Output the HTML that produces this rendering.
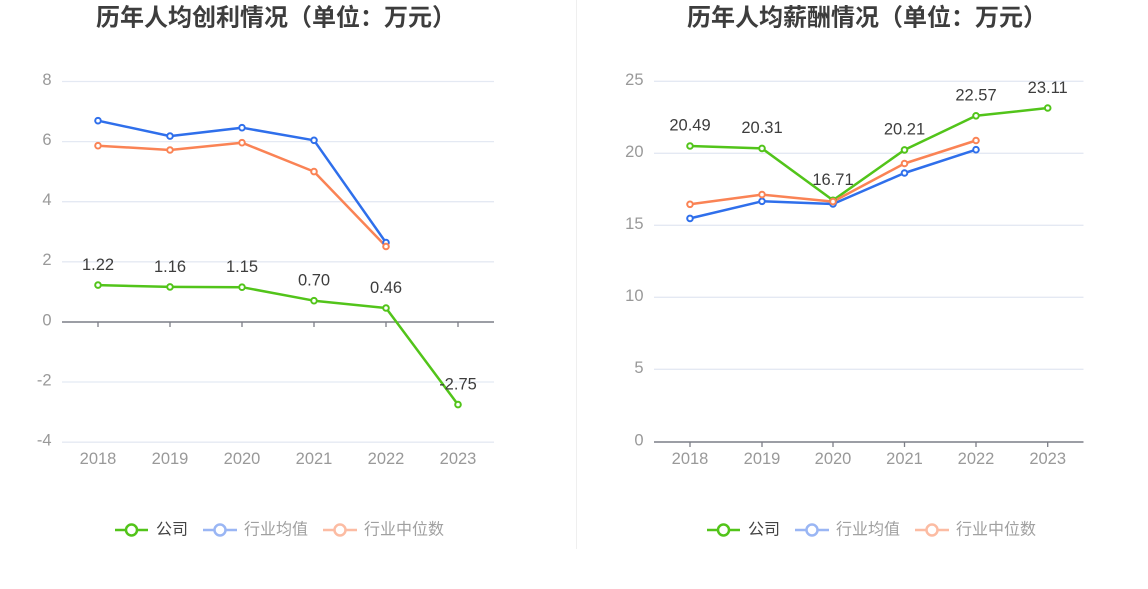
<!DOCTYPE html>
<html>
<head>
<meta charset="utf-8">
<style>
  html,body{margin:0;padding:0;background:#fff;}
  svg{display:block;}
  .title{font-family:"Liberation Sans","Noto Sans CJK SC",sans-serif;font-weight:bold;font-size:24px;fill:#3d3d3d;}
  .ax{font-family:"Liberation Sans",sans-serif;font-size:16.5px;fill:#999;}
  .lbl{font-family:"Liberation Sans",sans-serif;font-size:16.5px;fill:#3d3d3d;}
  .leg{font-family:"Liberation Sans","Noto Sans CJK SC",sans-serif;font-size:16px;}
</style>
</head>
<body>
<svg width="1148" height="589" viewBox="0 0 1148 589" xmlns="http://www.w3.org/2000/svg">
  <rect width="1148" height="589" fill="#fff"/>
  <line x1="576.5" y1="0" x2="576.5" y2="549" stroke="#efefef" stroke-width="1"/>

  <!-- ================= LEFT CHART ================= -->
  <text class="title" x="276" y="18" text-anchor="middle" dominant-baseline="central">历年人均创利情况（单位：万元）</text>

  <g stroke="#e4e9f3" stroke-width="1.3">
    <line x1="62" y1="81.5" x2="494" y2="81.5"/>
    <line x1="62" y1="141.6" x2="494" y2="141.6"/>
    <line x1="62" y1="201.7" x2="494" y2="201.7"/>
    <line x1="62" y1="261.8" x2="494" y2="261.8"/>
    <line x1="62" y1="382" x2="494" y2="382"/>
    <line x1="62" y1="442.2" x2="494" y2="442.2"/>
  </g>
  <line x1="62" y1="322" x2="494" y2="322" stroke="#7c7e87" stroke-width="1.6"/>
  <g stroke="#7c7e87" stroke-width="1.3">
    <line x1="98" y1="322" x2="98" y2="327"/>
    <line x1="170" y1="322" x2="170" y2="327"/>
    <line x1="242" y1="322" x2="242" y2="327"/>
    <line x1="314" y1="322" x2="314" y2="327"/>
    <line x1="386" y1="322" x2="386" y2="327"/>
    <line x1="458" y1="322" x2="458" y2="327"/>
  </g>
  <g class="ax" text-anchor="end" dominant-baseline="central">
    <text x="51.5" y="80">8</text>
    <text x="51.5" y="140">6</text>
    <text x="51.5" y="200">4</text>
    <text x="51.5" y="260">2</text>
    <text x="51.5" y="320.5">0</text>
    <text x="51.5" y="380.5">-2</text>
    <text x="51.5" y="440.5">-4</text>
  </g>
  <g class="ax" text-anchor="middle" dominant-baseline="central">
    <text x="98" y="459">2018</text>
    <text x="170" y="459">2019</text>
    <text x="242" y="459">2020</text>
    <text x="314" y="459">2021</text>
    <text x="386" y="459">2022</text>
    <text x="458" y="459">2023</text>
  </g>
  <g fill="none" stroke-width="2.5" stroke-linejoin="round">
    <polyline stroke="#52c41a" points="98,285.1 170,286.9 242,287.2 314,300.7 386,308 458,404.6"/>
    <polyline stroke="#2f6feb" points="98,120.7 170,136.1 242,127.7 314,140.3 386,242.6"/>
    <polyline stroke="#fa8355" points="98,145.7 170,150 242,142.7 314,171.6 386,246.5"/>
  </g>
  <g fill="#fff" stroke-width="2">
    <g stroke="#52c41a">
      <circle cx="98" cy="285.1" r="2.8"/><circle cx="170" cy="286.9" r="2.8"/><circle cx="242" cy="287.2" r="2.8"/>
      <circle cx="314" cy="300.7" r="2.8"/><circle cx="386" cy="308" r="2.8"/><circle cx="458" cy="404.6" r="2.8"/>
    </g>
    <g stroke="#2f6feb">
      <circle cx="98" cy="120.7" r="2.8"/><circle cx="170" cy="136.1" r="2.8"/><circle cx="242" cy="127.7" r="2.8"/>
      <circle cx="314" cy="140.3" r="2.8"/><circle cx="386" cy="242.6" r="2.8"/>
    </g>
    <g stroke="#fa8355">
      <circle cx="98" cy="145.7" r="2.8"/><circle cx="170" cy="150" r="2.8"/><circle cx="242" cy="142.7" r="2.8"/>
      <circle cx="314" cy="171.6" r="2.8"/><circle cx="386" cy="246.5" r="2.8"/>
    </g>
  </g>
  <g class="lbl" text-anchor="middle" dominant-baseline="central">
    <text x="98" y="265">1.22</text>
    <text x="170" y="267">1.16</text>
    <text x="242" y="267">1.15</text>
    <text x="314" y="280.5">0.70</text>
    <text x="386" y="288">0.46</text>
    <text x="458" y="384.5">-2.75</text>
  </g>
  <g>
    <line x1="115" y1="530" x2="148" y2="530" stroke="#52c41a" stroke-width="2.5"/>
    <circle cx="131.5" cy="530" r="5.5" fill="#fff" stroke="#52c41a" stroke-width="2.5"/>
    <text class="leg" x="156" y="530" dominant-baseline="central" fill="#444">公司</text>
    <line x1="203" y1="530" x2="237" y2="530" stroke="#9ab6f4" stroke-width="2.5"/>
    <circle cx="220" cy="530" r="5.5" fill="#fff" stroke="#9ab6f4" stroke-width="2.5"/>
    <text class="leg" x="244" y="530" dominant-baseline="central" fill="#a0a0a0">行业均值</text>
    <line x1="323" y1="530" x2="357" y2="530" stroke="#fcbca3" stroke-width="2.5"/>
    <circle cx="340" cy="530" r="5.5" fill="#fff" stroke="#fcbca3" stroke-width="2.5"/>
    <text class="leg" x="364" y="530" dominant-baseline="central" fill="#a0a0a0">行业中位数</text>
  </g>

  <!-- ================= RIGHT CHART ================= -->
  <text class="title" x="867" y="18" text-anchor="middle" dominant-baseline="central">历年人均薪酬情况（单位：万元）</text>

  <g stroke="#e4e9f3" stroke-width="1.3">
    <line x1="654" y1="81.3" x2="1083.5" y2="81.3"/>
    <line x1="654" y1="153.3" x2="1083.5" y2="153.3"/>
    <line x1="654" y1="225.3" x2="1083.5" y2="225.3"/>
    <line x1="654" y1="297.3" x2="1083.5" y2="297.3"/>
    <line x1="654" y1="369.3" x2="1083.5" y2="369.3"/>
  </g>
  <line x1="654" y1="442" x2="1083.5" y2="442" stroke="#7c7e87" stroke-width="1.6"/>
  <g stroke="#7c7e87" stroke-width="1.3">
    <line x1="690" y1="442" x2="690" y2="447"/>
    <line x1="762" y1="442" x2="762" y2="447"/>
    <line x1="833" y1="442" x2="833" y2="447"/>
    <line x1="904.5" y1="442" x2="904.5" y2="447"/>
    <line x1="976" y1="442" x2="976" y2="447"/>
    <line x1="1047.7" y1="442" x2="1047.7" y2="447"/>
  </g>
  <g class="ax" text-anchor="end" dominant-baseline="central">
    <text x="643.5" y="80">25</text>
    <text x="643.5" y="152">20</text>
    <text x="643.5" y="224">15</text>
    <text x="643.5" y="296">10</text>
    <text x="643.5" y="368">5</text>
    <text x="643.5" y="440.5">0</text>
  </g>
  <g class="ax" text-anchor="middle" dominant-baseline="central">
    <text x="690" y="459">2018</text>
    <text x="762" y="459">2019</text>
    <text x="833" y="459">2020</text>
    <text x="904.5" y="459">2021</text>
    <text x="976" y="459">2022</text>
    <text x="1047.7" y="459">2023</text>
  </g>
  <g fill="none" stroke-width="2.5" stroke-linejoin="round">
    <polyline stroke="#52c41a" points="690,146 762,148.4 833,200.3 904.5,149.9 976,115.8 1047.7,108"/>
    <polyline stroke="#2f6feb" points="690,218.4 762,201.3 833,204 904.5,173 976,149.7"/>
    <polyline stroke="#fa8355" points="690,204.3 762,194.6 833,201.6 904.5,163.5 976,140.5"/>
  </g>
  <g fill="#fff" stroke-width="2">
    <g stroke="#52c41a">
      <circle cx="690" cy="146" r="2.8"/><circle cx="762" cy="148.4" r="2.8"/><circle cx="833" cy="200.3" r="2.8"/>
      <circle cx="904.5" cy="149.9" r="2.8"/><circle cx="976" cy="115.8" r="2.8"/><circle cx="1047.7" cy="108" r="2.8"/>
    </g>
    <g stroke="#2f6feb">
      <circle cx="690" cy="218.4" r="2.8"/><circle cx="762" cy="201.3" r="2.8"/><circle cx="833" cy="204" r="2.8"/>
      <circle cx="904.5" cy="173" r="2.8"/><circle cx="976" cy="149.7" r="2.8"/>
    </g>
    <g stroke="#fa8355">
      <circle cx="690" cy="204.3" r="2.8"/><circle cx="762" cy="194.6" r="2.8"/><circle cx="833" cy="201.6" r="2.8"/>
      <circle cx="904.5" cy="163.5" r="2.8"/><circle cx="976" cy="140.5" r="2.8"/>
    </g>
  </g>
  <g class="lbl" text-anchor="middle" dominant-baseline="central">
    <text x="690" y="125.5">20.49</text>
    <text x="762" y="128">20.31</text>
    <text x="833" y="180">16.71</text>
    <text x="904.5" y="129.5">20.21</text>
    <text x="976" y="95.5">22.57</text>
    <text x="1047.7" y="88">23.11</text>
  </g>
  <g>
    <line x1="707" y1="530" x2="740" y2="530" stroke="#52c41a" stroke-width="2.5"/>
    <circle cx="723.5" cy="530" r="5.5" fill="#fff" stroke="#52c41a" stroke-width="2.5"/>
    <text class="leg" x="748" y="530" dominant-baseline="central" fill="#444">公司</text>
    <line x1="795" y1="530" x2="829" y2="530" stroke="#9ab6f4" stroke-width="2.5"/>
    <circle cx="812" cy="530" r="5.5" fill="#fff" stroke="#9ab6f4" stroke-width="2.5"/>
    <text class="leg" x="836" y="530" dominant-baseline="central" fill="#a0a0a0">行业均值</text>
    <line x1="915" y1="530" x2="949" y2="530" stroke="#fcbca3" stroke-width="2.5"/>
    <circle cx="932" cy="530" r="5.5" fill="#fff" stroke="#fcbca3" stroke-width="2.5"/>
    <text class="leg" x="956" y="530" dominant-baseline="central" fill="#a0a0a0">行业中位数</text>
  </g>
</svg>
</body>
</html>
